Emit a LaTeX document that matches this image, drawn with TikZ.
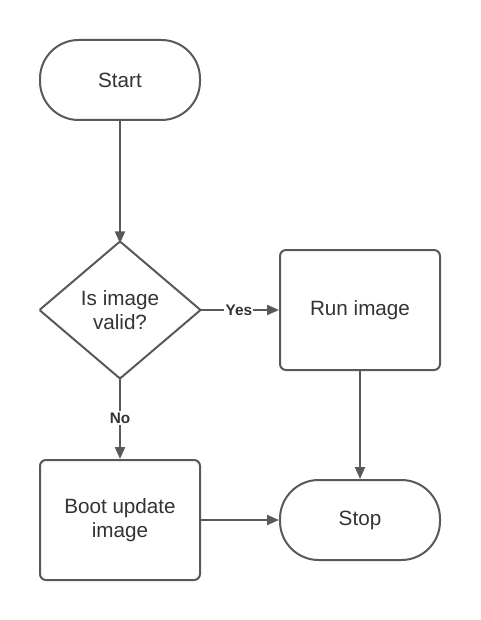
\documentclass[tikz,border=0pt]{standalone}
\usepackage{fontspec}
\setmainfont{Liberation Sans}
\usetikzlibrary{shapes.geometric,arrows.meta}
\definecolor{linegray}{HTML}{595959}
\definecolor{textgray}{HTML}{333333}
\begin{document}
\begin{tikzpicture}[x=0.75pt, y=-0.75pt, >={Triangle[length=9pt,width=7.5pt]},
    box/.style={draw=linegray, line width=1.5pt, rounded corners=4.5pt, minimum width=120pt, minimum height=90pt, align=center, text=textgray, font=\fontsize{15.5}{18.5}\selectfont},
    term/.style={box, rounded corners=29pt, minimum height=60pt},
    decide/.style={draw=linegray, line width=1.5pt, diamond, aspect=1.18, minimum width=120pt, minimum height=102pt, inner sep=0pt, outer sep=-1pt, align=center, text=textgray, font=\fontsize{15.5}{18.5}\selectfont, rounded corners=1pt},
    flow/.style={->, draw=linegray, line width=1.5pt},
    lbl/.style={fill=white, inner sep=1pt, text=textgray, font=\fontsize{11.5}{13}\selectfont\bfseries}]
\useasboundingbox (0,0) rectangle (480,620);

\node[term] (start) at (120,80) {Start};
\node[decide] (valid) at (120,310) {Is image\\valid?};
\node[box] (run) at (360,310) {Run image};
\node[box] (boot) at (120,520) {Boot update\\image};
\node[term] (stop) at (360,520) {Stop};

\draw[flow] (start)--(valid);
\draw[flow] (valid)--node[lbl]{Yes}(run);
\draw[flow] (valid)--node[lbl]{No}(boot);
\draw[flow] (run)--(stop);
\draw[flow] (boot)--(stop);
\end{tikzpicture}
\end{document}
